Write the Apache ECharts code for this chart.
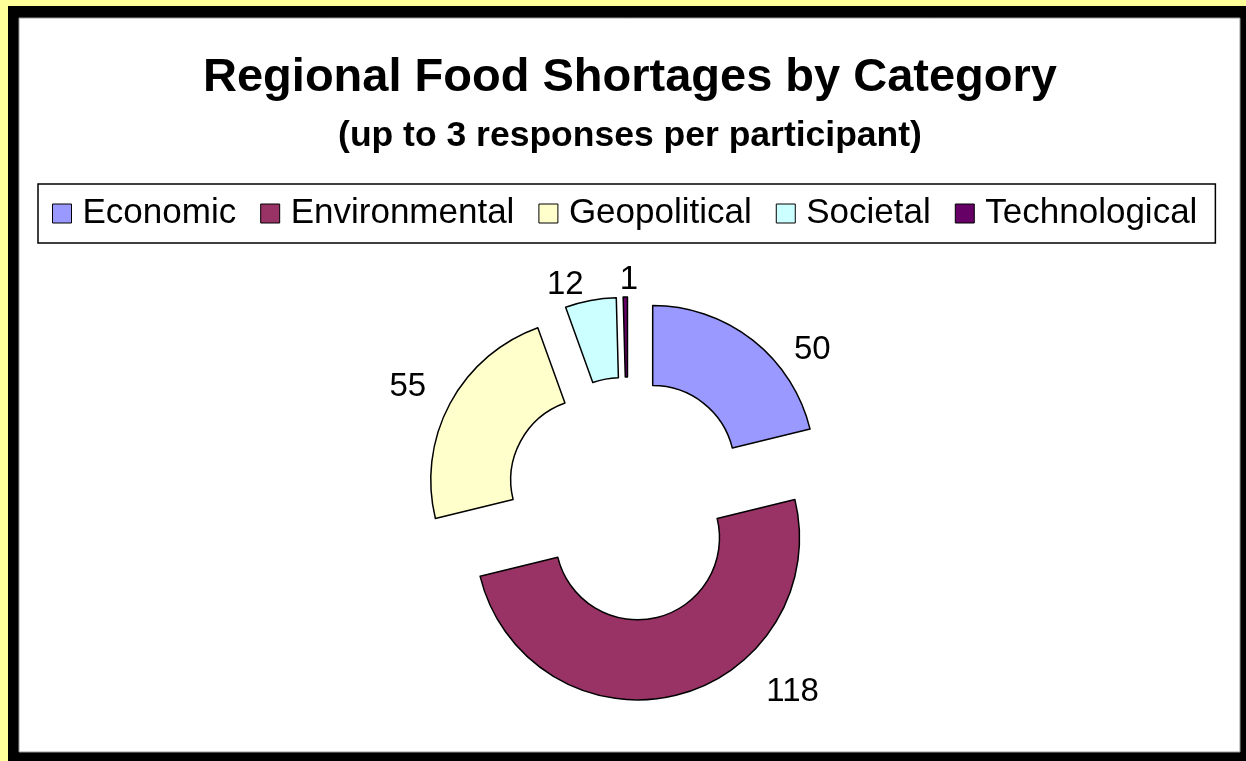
<!DOCTYPE html>
<html>
<head>
<meta charset="utf-8">
<title>Regional Food Shortages by Category</title>
<script src="https://cdn.jsdelivr.net/npm/echarts@6/dist/echarts.min.js"></script>
<style>
  html, body { margin: 0; padding: 0; background: #ffff99; }
  #chart { width: 1246px; height: 761px; }
</style>
</head>
<body>
<div id="chart"></div>
<script>
// categories and counts (responses)
const categories = ['Economic', 'Environmental', 'Geopolitical', 'Societal', 'Technological']
const responses = [50, 118, 55, 12, 1]
const sliceColors = ['#9999ff', '#993366', '#ffffcc', '#ccffff', '#660066']

// small per-slice nudges so the value labels sit where Excel put them
const LABEL_SHIFT = [[20, 18], [73, -13], [0, -12], [10, -6], [28, -7]]

const chart = echarts.init(document.getElementById('chart'))

const pieData = categories.map((name, i) => ({
  name: name,
  value: responses[i],
  selected: true,
  itemStyle: { color: sliceColors[i] },
}))

chart.setOption({
  backgroundColor: '#ffff99',
  animation: false,
  graphic: [
    // black frame and white plot panel
    { type: 'rect', shape: { x: 8, y: 6, width: 1238, height: 755 }, style: { fill: '#000' }, z: -10 },
    { type: 'rect', shape: { x: 19, y: 18, width: 1221, height: 734 }, style: { fill: '#fff', stroke: '#999', lineWidth: 1 }, z: -9 },
  ],
  title: {
    text: 'Regional Food Shortages by Category',
    subtext: '(up to 3 responses per participant)',
    left: 630,
    textAlign: 'center',
    top: 55,
    padding: 0,
    itemGap: 16,
    textStyle: {
      fontFamily: 'Liberation Sans, Arial, sans-serif',
      fontSize: 47,
      fontWeight: 'bold',
      color: '#000',
    },
    subtextStyle: {
      fontFamily: 'Liberation Sans, Arial, sans-serif',
      fontSize: 35.5,
      fontWeight: 'bold',
      color: '#000',
    },
  },
  legend: {
    data: categories,
    left: 38,
    top: 184,
    padding: [12, 18, 12, 14],
    itemGap: 24,
    itemWidth: 19,
    itemHeight: 19,
    icon: 'rect',
    selectedMode: false,
    borderColor: '#000',
    borderWidth: 1.5,
    itemStyle: { borderColor: '#000', borderWidth: 1 },
    textStyle: {
      fontFamily: 'Liberation Sans, Arial, sans-serif',
      fontSize: 35,
      color: '#000',
      padding: [0, 0, 0, 6],
    },
  },
  series: [
    {
      type: 'pie',
      center: [628, 499],
      radius: [82, 162],
      startAngle: 90,
      clockwise: true,
      selectedMode: 'multiple',
      selectedOffset: 40,
      avoidLabelOverlap: false,
      emphasis: { disabled: true },
      itemStyle: { borderColor: '#000', borderWidth: 1.5 },
      label: {
        show: true,
        position: 'outside',
        formatter: '{c}',
        fontFamily: 'Liberation Sans, Arial, sans-serif',
        fontSize: 33,
        color: '#000',
      },
      labelLine: { show: false, length: 10, length2: 10 },
      labelLayout: (params) => ({
        dx: LABEL_SHIFT[params.dataIndex][0],
        dy: LABEL_SHIFT[params.dataIndex][1],
      }),
      data: pieData,
    },
  ],
})
</script>
</body>
</html>
